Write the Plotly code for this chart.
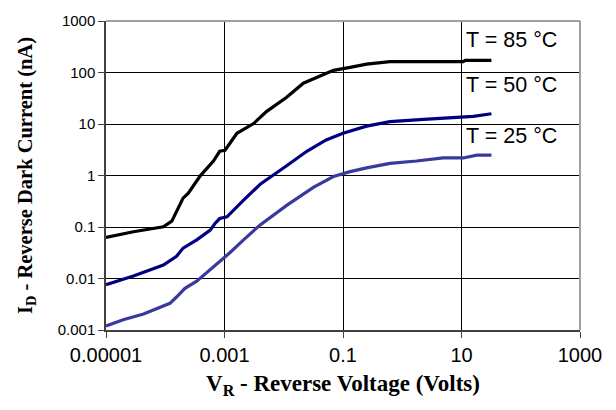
import math
import plotly.graph_objects as go

# Reverse voltage (V) and dark current (nA) for each temperature
v_85 = [1e-5, 2.9e-5, 9.3e-5, 1.29e-4, 2.0e-4, 2.45e-4, 3.9e-4, 6.5e-4, 8.3e-4, 1.02e-3,
        1.62e-3, 3.1e-3, 5.1e-3, 0.0112, 0.0214, 0.041, 0.069, 0.132, 0.25, 0.62, 10.7, 11.5, 32]
i_85 = [0.063, 0.081, 0.101, 0.130, 0.363, 0.453, 0.986, 1.91, 2.95, 3.09,
        6.6, 10.2, 17.4, 33, 62, 87, 110, 126, 145, 162, 162, 172, 172]

v_50 = [1e-5, 2.9e-5, 9.3e-5, 1.55e-4, 2.0e-4, 3.4e-4, 5.75e-4, 6.9e-4, 8.3e-4, 1.1e-3,
        2.1e-3, 4.0e-3, 0.0112, 0.0245, 0.052, 0.1, 0.25, 0.62, 2.3, 7.2, 15.8, 32]
i_50 = [0.0076, 0.0112, 0.0182, 0.0269, 0.0389, 0.0562, 0.087, 0.117, 0.146, 0.158,
        0.331, 0.676, 1.55, 2.95, 4.9, 6.6, 9.1, 11.1, 12.3, 13.5, 14.1, 15.8]

v_25 = [1e-5, 1.95e-5, 4.3e-5, 1.2e-4, 1.55e-4, 2.15e-4, 3.4e-4, 5.0e-4, 8.3e-4, 1.23e-3,
        2.1e-3, 4.0e-3, 0.0112, 0.0316, 0.069, 0.132, 0.25, 0.62, 1.74, 4.9, 10.7, 18.2, 32]
i_25 = [0.0012, 0.00158, 0.00204, 0.0033, 0.00437, 0.00646, 0.0089, 0.0129, 0.0219, 0.0316,
        0.0562, 0.11, 0.263, 0.589, 0.955, 1.19, 1.41, 1.72, 1.91, 2.19, 2.19, 2.48, 2.48]

labels = ["T = 85 °C", "T = 50 °C", "T = 25 °C"]
label_y = [350, 48, 4.9]  # nA positions of the labels
colors = ["#000000", "#000080", "#3a3a9e"]

x_tickvals = [1e-5, 1e-3, 1e-1, 10, 1000]
x_ticktext = ["0.00001", "0.001", "0.1", "10", "1000"]
y_tickvals = [0.001, 0.01, 0.1, 1, 10, 100, 1000]
y_ticktext = ["0.001", "0.01", "0.1", "1", "10", "100", "1000"]

fig = go.Figure()
for v, i, c, name in zip([v_85, v_50, v_25], [i_85, i_50, i_25], colors, labels):
    fig.add_trace(go.Scatter(x=v, y=i, mode="lines", name=name,
                             line=dict(color=c, width=3.2), showlegend=False))

for lab, ly in zip(labels, label_y):
    fig.add_annotation(x=1, y=math.log10(ly), xref="x", yref="y", text=lab,
                       showarrow=False, xanchor="left", yanchor="middle", xshift=2, yshift=4,
                       font=dict(family="Liberation Sans", size=21.5, color="black"))

# gray frame on top/right
fig.add_shape(type="line", xref="paper", yref="paper", x0=0, x1=1, y0=1, y1=1,
              line=dict(color="#a0a0a0", width=2))
fig.add_shape(type="line", xref="paper", yref="paper", x0=1, x1=1, y0=0, y1=1,
              line=dict(color="#a0a0a0", width=2))

fig.update_layout(
    width=616, height=410, autosize=False,
    margin=dict(l=106, r=36, t=16, b=80),
    paper_bgcolor="white", plot_bgcolor="white",
    xaxis=dict(type="log", range=[-5, 3], tickvals=x_tickvals, ticktext=x_ticktext,
               showgrid=True, gridcolor="black", gridwidth=1,
               showline=True, linecolor="#404040", linewidth=1.5,
               ticks="outside", ticklen=6, tickcolor="#404040",
               tickfont=dict(family="Liberation Sans", size=20, color="black"),
               title=dict(text="V<sub>R</sub> - Reverse Voltage (Volts)", standoff=10,
                          font=dict(family="Liberation Serif", size=23, color="black", weight="bold"))),
    yaxis=dict(type="log", range=[-3, 3], tickvals=y_tickvals, ticktext=y_ticktext,
               showgrid=True, gridcolor="black", gridwidth=1,
               showline=True, linecolor="#404040", linewidth=1.5,
               ticks="outside", ticklen=6, tickcolor="#404040",
               tickfont=dict(family="Liberation Sans", size=15, color="black"),
               title=dict(text="I<sub>D</sub> - Reverse Dark Current (nA)", standoff=20,
                          font=dict(family="Liberation Serif", size=20.5, color="black", weight="bold"))),
)

fig.write_html("out.html")
